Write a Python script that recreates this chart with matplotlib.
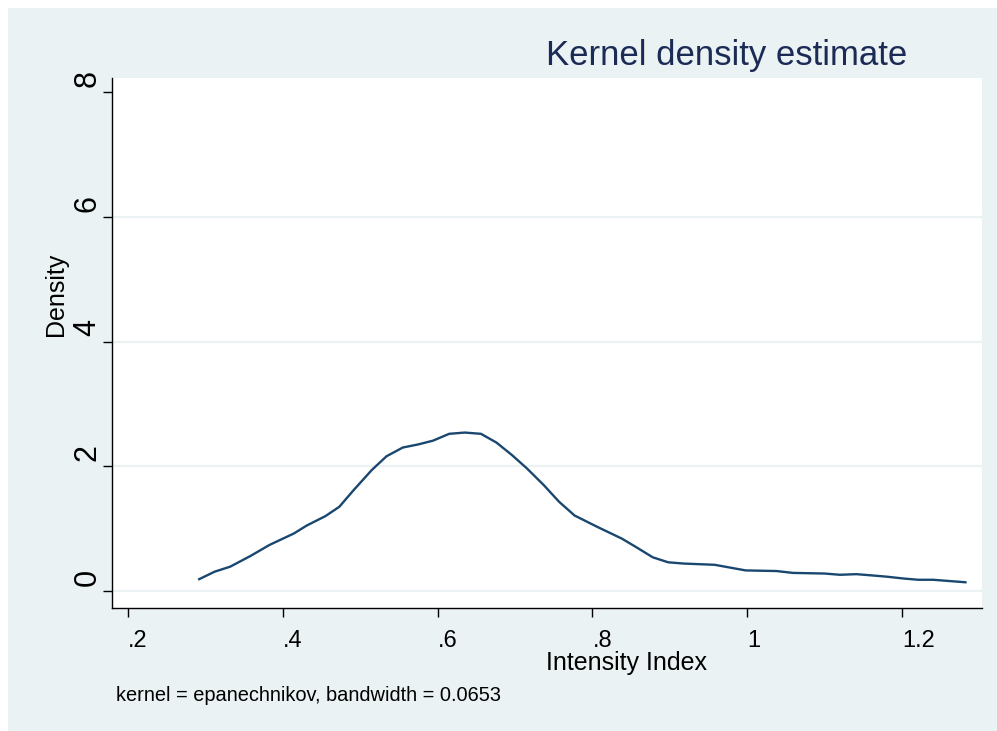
import numpy as np
import matplotlib
matplotlib.use("Agg")
import matplotlib.pyplot as plt
import matplotlib.transforms as mtransforms
from matplotlib.patches import Rectangle

plt.rcParams['font.family'] = ['Liberation Sans', 'DejaVu Sans']

# density curve
intensity = [0.292, 0.312, 0.332, 0.358, 0.383, 0.414, 0.431, 0.455, 0.473, 0.491,
             0.515, 0.534, 0.555, 0.575, 0.594, 0.615, 0.635, 0.656, 0.676, 0.696,
             0.715, 0.737, 0.757, 0.777, 0.806, 0.838, 0.857, 0.878, 0.898, 0.918,
             0.958, 0.998, 1.038, 1.059, 1.100, 1.120, 1.141, 1.161, 1.180, 1.202,
             1.221, 1.240, 1.282]
density = [0.19, 0.31, 0.39, 0.56, 0.74, 0.92, 1.05, 1.20, 1.35, 1.61,
           1.94, 2.16, 2.30, 2.35, 2.41, 2.52, 2.54, 2.52, 2.38, 2.18,
           1.97, 1.70, 1.43, 1.21, 1.03, 0.84, 0.70, 0.54, 0.46, 0.44,
           0.42, 0.33, 0.32, 0.29, 0.28, 0.26, 0.27, 0.25, 0.23, 0.20,
           0.18, 0.18, 0.14]

xticks = [0.2, 0.4, 0.6, 0.8, 1.0, 1.2]
xtick_labels = ['.2', '.4', '.6', '.8', '1', '1.2']
yticks = [0, 2, 4, 6, 8]
ytick_labels = ['0', '2', '4', '6', '8']

W, H = 997, 731
bg = '#EAF2F3'
navy = '#1A476F'

fig = plt.figure(figsize=(W / 100, H / 100), dpi=100)
fig.patch.set_facecolor('white')
fig.patches.append(Rectangle((8 / W, 0), 1 - 8 / W, 1 - 8 / H, transform=fig.transFigure,
                             facecolor=bg, edgecolor='none', zorder=-10))

left, right, top, bottom = 112, 982, 78, 607.7
ax = fig.add_axes([left / W, (H - bottom) / H, (right - left) / W, (bottom - top) / H])
ax.set_facecolor('white')

# y: 0 at 591 px, 8 at 92 px ; x: .2 at 128 px, 1.2 at 902 px
ypx = (591 - 92) / 8
ax.set_ylim(-(bottom - 591) / ypx, 8 + (92 - top) / ypx)
xpx = (902 - 128) / 1.0
ax.set_xlim(0.2 - (128 - left) / xpx, 1.2 + (right - 902) / xpx)

for yv in [0, 2, 4, 6]:
    ax.axhline(yv, color=bg, lw=1.6, zorder=1)

ax.plot(intensity, density, color=navy, lw=1.7, zorder=3)

for s in ['top', 'right']:
    ax.spines[s].set_visible(False)
for s in ['left', 'bottom']:
    ax.spines[s].set_color('black')
    ax.spines[s].set_linewidth(1.0)

ax.set_xticks(xticks)
ax.set_xticklabels(xtick_labels, fontsize=17, ha='left')
ax.set_yticks(yticks)
ax.set_yticklabels(ytick_labels, fontsize=22, rotation=90, va='bottom')
ax.tick_params(axis='x', direction='out', length=6.7, width=1, pad=9)
ax.tick_params(axis='y', direction='out', length=6.7, width=1, pad=0)

shift = mtransforms.ScaledTranslation(0, 5 / 100, fig.dpi_scale_trans)
for lab in ax.get_yticklabels():
    lab.set_transform(lab.get_transform() + shift)

fig.text(56 / W, 1 - 294 / H, 'Density', rotation=90, fontsize=18, ha='center', va='center')
fig.text(546 / W, 1 - 670 / H, 'Intensity Index', fontsize=18, ha='left', va='baseline')
fig.text(546 / W, 1 - 65 / H, 'Kernel density estimate', fontsize=25, color='#1C2B56',
         ha='left', va='baseline')
fig.text(116 / W, 1 - 701 / H, 'kernel = epanechnikov, bandwidth = 0.0653', fontsize=14.4,
         ha='left', va='baseline')

fig.savefig('out.png', dpi=100, facecolor=fig.get_facecolor())
